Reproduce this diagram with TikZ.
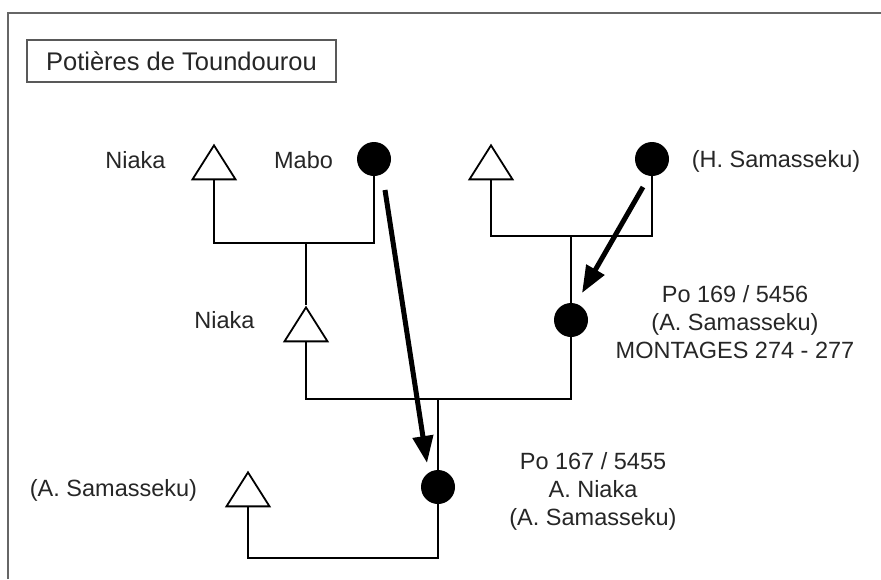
\documentclass[tikz,border=0pt]{standalone}
\usepackage{fontspec}
\setmainfont{Liberation Sans}
\usetikzlibrary{shapes.geometric,arrows.meta,calc}
\begin{document}
\begin{tikzpicture}[x=1pt,y=-1pt,
  kin/.style={line width=2pt},
  male/.style={draw,line width=1.8pt,fill=white,shape=isosceles triangle,
    shape border rotate=90,isosceles triangle stretches,
    minimum width=43pt,minimum height=34pt,inner sep=0pt},
  female/.style={circle,fill=black,minimum size=34pt,inner sep=0pt},
  lab/.style={font=\fontsize{23.5}{28}\selectfont,inner sep=0pt,text=black!85},
  pass/.style={line width=5pt,-{Triangle[length=27pt,width=20pt]}}]
\useasboundingbox (0,0) rectangle (881,579);

% outer frame
\draw[black!60,line width=2pt] (8,579) -- (8,13) -- (881,13);

% title
\node[draw=black!65,line width=1.3pt,minimum width=309pt,minimum height=42pt,
  inner sep=0pt,text=black!85,font=\fontsize{25.5}{28}\selectfont] (title) at (181.5,61)
  {Potières de Toundourou};

% individuals
\node[male,anchor=apex] (tri1) at (214,143) {};
\node[female] (c1) at (374,159) {};
\node[male,anchor=apex] (tri3) at (491,143) {};
\node[female] (c2) at (652,159) {};
\node[male,anchor=apex] (tri2) at (306,305) {};
\node[female] (c3) at (571,320) {};
\node[female] (c4) at (438,487) {};
\node[male,anchor=apex] (tri4) at (248,470) {};

% junctions
\coordinate (j1) at (306,243);
\coordinate (j2) at (571,236);
\coordinate (j3) at (438,399);
\coordinate (j4) at (438,558);

% kinship lines
\draw[kin] (tri1.lower side) |- (j1) -| (c1.south);
\draw[kin] (j1) -- (tri2.apex);
\draw[kin] (tri3.lower side) |- (j2) -| (c2.south);
\draw[kin] (j2) -- (c3.north);
\draw[kin] (tri2.lower side) |- (j3) -| (c3.south);
\draw[kin] (j3) -- (c4.north);
\draw[kin] (tri4.lower side) |- (j4) -- (c4.south);

% transmission arrows
\coordinate (a1s) at ($(c1)+(11,31)$);
\coordinate (a1e) at ($(c4)+(-11,-24)$);
\coordinate (a2s) at ($(c2)+(-9,28)$);
\coordinate (a2e) at ($(c3)+(11,-27)$);
\draw[pass] (a1s) -- (a1e);
\draw[pass] (a2s) -- (a2e);

% names
\node[lab,anchor=base] (nk1) at (135.5,168) {Niaka};
\node[lab,anchor=base] (mabo) at (303.5,168) {Mabo};
\node[lab,anchor=base] (hs) at (776,167) {(H. Samasseku)};
\node[lab,anchor=base] (nk2) at (224.5,328) {Niaka};
\node[lab,anchor=base] (as) at (113.5,496) {(A. Samasseku)};
\node[lab,align=center,anchor=north] (po169) at (735,285)
  {Po 169 / 5456\\(A. Samasseku)\\MONTAGES 274 - 277};
\node[lab,align=center,anchor=north] (po167) at (593,452)
  {Po 167 / 5455\\A. Niaka\\(A. Samasseku)};
\end{tikzpicture}
\end{document}
